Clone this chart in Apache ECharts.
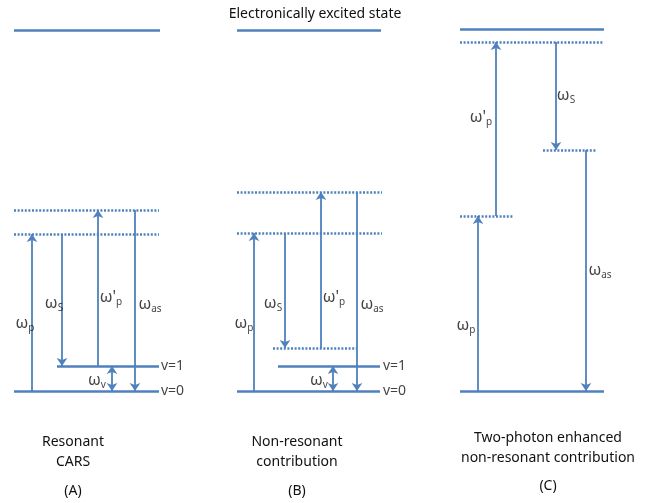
<!DOCTYPE html>
<html>
<head>
<meta charset="utf-8">
<script src="https://cdn.jsdelivr.net/npm/echarts@6/dist/echarts.min.js"></script>
<style>
html, body { margin: 0; padding: 0; background: #fff; }
#main { width: 645px; height: 503px; }
</style>
</head>
<body>
<div id="main"></div>
<script>
// energy read off the picture, measured upward from v=0 (same units as the x positions)
// levels: [xStart, xEnd, energy]
var solidLevels = [
	[14, 160, 361], [57, 159, 25], [14, 159, 0],
	[237, 381, 361], [278, 380, 25], [237, 380, 0],
	[460, 604, 362], [460, 604, 0]
];
var dottedLevels = [
	[14, 159, 181], [14, 159, 157],
	[237, 382, 199], [237, 382, 158], [273, 357, 43],
	[460, 604, 349], [543, 597, 241], [460, 513, 175]
];
// transitions: [x, fromEnergy, toEnergy]
var transitions = [
	[32, 0, 157], [62, 157, 25], [98, 25, 181], [135, 181, 0],
	[254, 0, 158], [285, 158, 43], [321, 43, 199], [357, 199, 0],
	[478, 0, 175], [496, 175, 349], [556, 349, 241], [586, 241, 0]
];
var vibTransitions = [[112, 0, 25], [333, 0, 25]];
// labels: [x, energy, symbol, subscript]
var omegaLabels = [
	[25, 68, "ω", "p"], [54, 88, "ω", "S"], [111, 94, "ω'", "p"], [150, 87, "ω", "as"], [97, 11, "ω", "v"],
	[244, 68, "ω", "p"], [273, 88, "ω", "S"], [334, 94, "ω'", "p"], [372, 87, "ω", "as"], [319, 11, "ω", "v"],
	[481, 274, "ω'", "p"], [566, 296, "ω", "S"], [600, 121, "ω", "as"], [466, 66, "ω", "p"]
];
var stateLabels = [[161, 25, "v=1"], [161, 0, "v=0"], [383, 25, "v=1"], [383, 0, "v=0"]];
var topTitle = "Electronically excited state";
var captions = [
	[73, ["Resonant", "CARS"], "(A)"],
	[297, ["Non-resonant", "contribution"], "(B)"],
	[548, ["Two-photon enhanced", "non-resonant contribution"], "(C)"]
];

var blue = '#4f81bd';
var font = 'Noto Sans';

function levelData(arr) {
	var out = [];
	for (var i = 0; i < arr.length; i++) {
		out.push({ coords: [[arr[i][0], arr[i][2]], [arr[i][1], arr[i][2]]] });
	}
	return out;
}
function arrowData(arr) {
	var out = [];
	for (var i = 0; i < arr.length; i++) {
		out.push({ coords: [[arr[i][0], arr[i][1]], [arr[i][0], arr[i][2]]] });
	}
	return out;
}

var graphics = [];
for (var i = 0; i < captions.length; i++) {
	var c = captions[i];
	var isC = i == 2;
	graphics.push({
		type: 'text', x: c[0], y: isC ? 428 : 432,
		style: { text: c[1].join('\n'), textAlign: 'center', textVerticalAlign: 'top', font: '14px "' + font + '"', lineHeight: 20, fill: '#111' }
	});
	graphics.push({
		type: 'text', x: c[0], y: isC ? 479 : 484,
		style: { text: c[2], textAlign: 'center', textVerticalAlign: 'top', font: '14px "' + font + '"', fill: '#111' }
	});
}

var chart = echarts.init(document.getElementById('main'));
var option = {
	animation: false,
	title: {
		text: topTitle, left: 310, top: 2, textAlign: 'center',
		textStyle: { fontFamily: font, fontSize: 14, fontWeight: 'normal', color: '#111' }
	},
	grid: { left: 0, right: 0, top: 0, bottom: 0 },
	xAxis: { type: 'value', min: 0, max: 645, show: false },
	yAxis: { type: 'value', min: -112, max: 391, show: false },
	graphic: graphics,
	series: [
		{
			type: 'lines', coordinateSystem: 'cartesian2d', data: levelData(solidLevels),
			lineStyle: { color: blue, width: 2.5, opacity: 1 }, symbol: 'none'
		},
		{
			type: 'lines', coordinateSystem: 'cartesian2d', data: levelData(dottedLevels),
			lineStyle: { color: blue, width: 2.5, opacity: 1, type: [2, 1.6] }, symbol: 'none'
		},
		{
			type: 'lines', coordinateSystem: 'cartesian2d', data: arrowData(transitions),
			lineStyle: { color: blue, width: 1.8, opacity: 1 }, symbol: ['none', 'arrow'], symbolSize: 8
		},
		{
			type: 'lines', coordinateSystem: 'cartesian2d', data: arrowData(vibTransitions),
			lineStyle: { color: blue, width: 1.8, opacity: 1 }, symbol: ['arrow', 'arrow'], symbolSize: 8
		},
		{
			type: 'scatter', symbolSize: 0, silent: true,
			data: omegaLabels.map(function (d) { return [d[0], d[1], d[2], d[3]]; }),
			label: {
				show: true, position: 'inside', color: '#111',
				formatter: function (p) { return '{w|' + p.value[2] + '}{s|' + p.value[3] + '}'; },
				rich: {
					w: { fontFamily: font, fontSize: 16, lineHeight: 20, color: '#111' },
					s: { fontFamily: font, fontSize: 10, lineHeight: 9, verticalAlign: 'bottom', color: '#111' }
				}
			}
		},
		{
			type: 'scatter', symbolSize: 0, silent: true,
			data: stateLabels,
			label: {
				show: true, position: 'right', distance: 0, color: '#111',
				fontFamily: font, fontSize: 14,
				formatter: function (p) { return p.value[2]; }
			}
		}
	]
};
chart.setOption(option);
window.onresize = chart.resize;
</script>
</body>
</html>
